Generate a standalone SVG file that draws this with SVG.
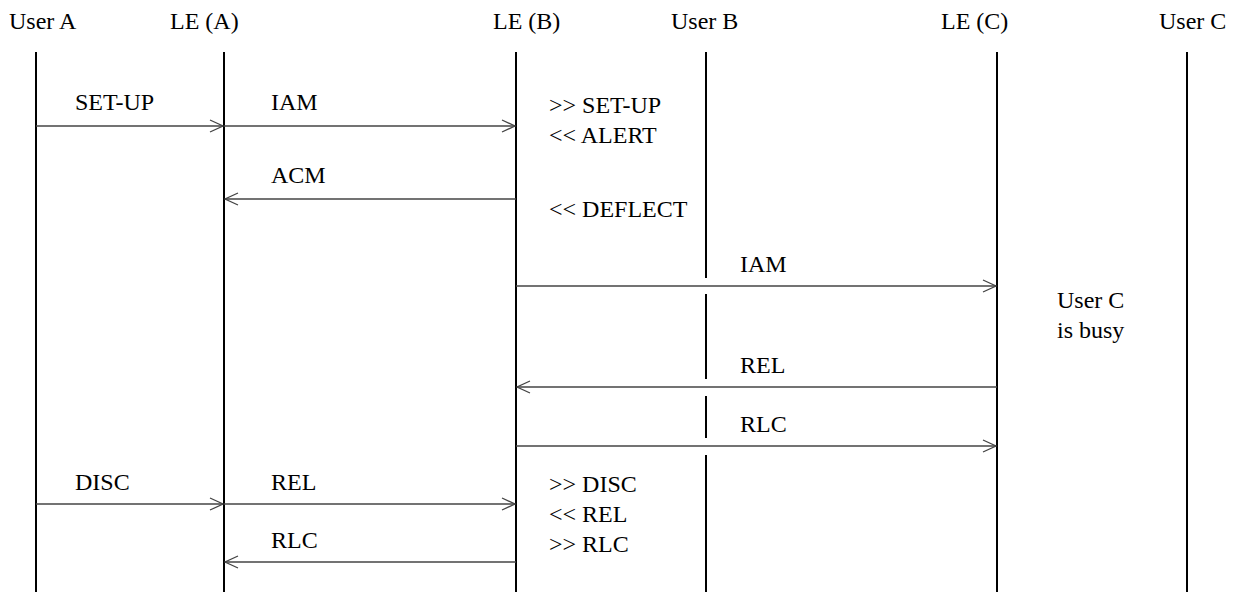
<svg xmlns="http://www.w3.org/2000/svg" width="1238" height="592" viewBox="0 0 1238 592">
<defs>
<style>
.life{stroke:#000;stroke-width:2}
.msg{stroke:#444;stroke-width:1.3;fill:none}
.head{stroke:#444;stroke-width:1.3;fill:none}
</style>
</defs>
<rect width="1238" height="592" fill="#fff"/>
<g font-family="Liberation Serif, Times New Roman, DejaVu Serif, serif" font-size="24" fill="#000">
<g id="userA"><text x="9" y="29">User A</text><line class="life" x1="36" y1="52" x2="36" y2="592"/></g>
<g id="leA"><text x="170" y="29">LE (A)</text><line class="life" x1="224" y1="52" x2="224" y2="592"/></g>
<g id="leB"><text x="493" y="29">LE (B)</text><line class="life" x1="516" y1="52" x2="516" y2="592"/></g>
<g id="userB"><text x="671" y="29">User B</text>
<path class="life" d="M706 52V278M706 294V379M706 396V438M706 455V592"/></g>
<g id="leC"><text x="941" y="29">LE (C)</text><line class="life" x1="997" y1="52" x2="997" y2="592"/></g>
<g id="userC"><text x="1159" y="29">User C</text><line class="life" x1="1187" y1="52" x2="1187" y2="592"/></g>
<g id="notes">
<text x="549" y="113">&gt;&gt; SET-UP</text>
<text x="549" y="143">&lt;&lt; ALERT</text>
<text x="549" y="217">&lt;&lt; DEFLECT</text>
<text x="1057" y="308">User C</text>
<text x="1057" y="338">is busy</text>
<text x="549" y="492">&gt;&gt; DISC</text>
<text x="549" y="522">&lt;&lt; REL</text>
<text x="549" y="552">&gt;&gt; RLC</text>
</g>
<g id="connectors">
<line class="msg" x1="36" y1="126" x2="223" y2="126"/><path class="head" d="M210 120L223 126L210 132"/><text x="75" y="110">SET-UP</text>
<line class="msg" x1="224" y1="126" x2="515" y2="126"/><path class="head" d="M502 120L515 126L502 132"/><text x="271" y="110">IAM</text>
<line class="msg" x1="516" y1="199" x2="225" y2="199"/><path class="head" d="M238 193L225 199L238 205"/><text x="271" y="183">ACM</text>
<line class="msg" x1="516" y1="286" x2="996" y2="286"/><path class="head" d="M983 280L996 286L983 292"/><text x="740" y="272">IAM</text>
<line class="msg" x1="997" y1="387" x2="517" y2="387"/><path class="head" d="M530 381L517 387L530 393"/><text x="740" y="373">REL</text>
<line class="msg" x1="516" y1="446" x2="996" y2="446"/><path class="head" d="M983 440L996 446L983 452"/><text x="740" y="432">RLC</text>
<line class="msg" x1="36" y1="504" x2="223" y2="504"/><path class="head" d="M210 498L223 504L210 510"/><text x="75" y="490">DISC</text>
<line class="msg" x1="224" y1="504" x2="515" y2="504"/><path class="head" d="M502 498L515 504L502 510"/><text x="271" y="490">REL</text>
<line class="msg" x1="516" y1="562" x2="225" y2="562"/><path class="head" d="M238 556L225 562L238 568"/><text x="271" y="548">RLC</text>
</g>
</g>
</svg>
